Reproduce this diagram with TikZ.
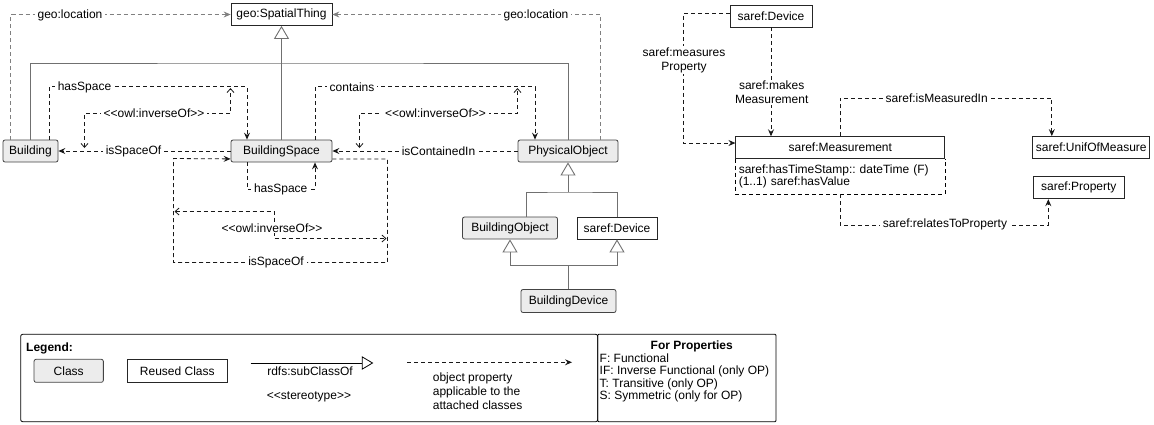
\documentclass[tikz,border=0pt]{standalone}
\usepackage{fontspec}
\setmainfont{Liberation Sans}
\usetikzlibrary{arrows.meta}
\definecolor{clsfill}{HTML}{ECECEC}
\definecolor{clsline}{HTML}{444444}
\definecolor{geoline}{HTML}{808080}
\definecolor{genline}{HTML}{707070}
\frenchspacing

\begin{document}
\begin{tikzpicture}[x=1pt, y=-1pt, font=\fontsize{12}{14}\selectfont,
    cls/.style={draw=clsline, fill=clsfill, rounded corners=2pt, line width=0.8pt,
      inner sep=0pt, minimum height=22pt},
    reused/.style={draw=black!85, fill=white, line width=0.8pt, inner sep=0pt,
      minimum height=22pt},
    oprop/.style={draw=black!90, line width=0.8pt, dash pattern=on 4pt off 3pt,
      -{Stealth[length=7pt,width=6pt,inset=2.5pt]}},
    geoprop/.style={oprop, draw=geoline},
    inv/.style={draw=black!90, line width=0.8pt, dash pattern=on 4pt off 3pt,
      {Straight Barb[length=4pt,width=7pt]}-{Straight Barb[length=4pt,width=7pt]}},
    gen/.style={draw=genline, line width=0.9pt, -{Triangle[open,length=13pt,width=15pt]}},
    genl/.style={draw=genline, line width=0.9pt},
    lbl/.style={fill=white, inner xsep=3pt, inner ysep=1pt, align=center}]
    \useasboundingbox (0,0) rectangle (1154,424);

    % classes
    \node[reused, minimum width=101pt] (spatial) at (281.5,14.5) {geo:SpatialThing};
    \node[cls, minimum width=55pt] (building) at (30.5,151) {Building};
    \node[cls, minimum width=101pt] (bspace) at (281.5,151) {BuildingSpace};
    \node[cls, minimum width=100pt] (physobj) at (568,151) {PhysicalObject};
    \node[cls, minimum width=95pt] (bobject) at (510,228) {BuildingObject};
    \node[reused, minimum width=80pt] (devicelow) at (617,228) {saref:Device};
    \node[cls, minimum width=95pt, minimum height=23pt] (bdevice) at (568.5,301) {BuildingDevice};

    \node[reused, minimum width=82pt] (device) at (771,16) {saref:Device};
    \node[reused, minimum width=209pt, minimum height=21.6pt] (measure) at (840.3,147.5) {saref:Measurement};
    \node[anchor=north, minimum width=209pt, minimum height=35pt, text width=203pt,
      align=left, inner xsep=2pt, inner ysep=0pt, font=\fontsize{12}{11.7}\selectfont]
      (attr) at (measure.south) {saref:hasTimeStamp:: dateTime (F)\\(1..1) saref:hasValue};
    \draw[line width=0.8pt, dash pattern=on 4pt off 3pt]
      (attr.north west) -- (attr.south west) -- (attr.south east) -- (attr.north east);
    \node[reused, minimum width=117pt] (unit) at (1091.3,147.5) {saref:UnifOfMeasure};
    \node[reused, minimum width=91pt] (property) at (1078.8,187.8) {saref:Property};

    % subclass tree
    \coordinate (spjoin) at (281.5,63);
    \coordinate (pojoin) at (568,192);
    \coordinate (bdjoin) at (568.5,265);
    \draw[gen] (bspace.north) -- (spatial.south);
    \draw[genl] (building.north) |- (spjoin) -| (physobj.north);
    \draw[gen] (pojoin) -- (physobj.south);
    \draw[genl] ([xshift=16pt]bobject.north) |- (pojoin) -| (devicelow.north);
    \draw[genl] (bdevice.north) -- (bdjoin);
    \draw[gen] (bdjoin) -| (bobject.south);
    \draw[gen] (bdjoin) -| (devicelow.south);

    % geo:location
    \draw[geoprop] ([xshift=8pt]building.north west) |- (spatial.west);
    \node[lbl] (lgeoa) at (70,15) {geo:location};
    \draw[geoprop] ([xshift=-18pt]physobj.north east) |- (spatial.east);
    \node[lbl] (lgeob) at (536,15) {geo:location};

    % building and space
    \draw[oprop] ([xshift=-9pt]building.north east) -- ++(0,-53) -| ([xshift=-34.5pt]bspace.north);
    \node[lbl] (lhasa) at (84.5,87) {hasSpace};
    \draw[oprop] (bspace.west) -- (building.east);
    \node[lbl] (lspofa) at (133.5,151) {isSpaceOf};
    \coordinate (inva) at (84.5,148);
    \coordinate (invam) at (230.5,113.5);
    \coordinate (invb) at (230.5,88);
    \draw[inv] (inva) |- (invam) -- (invb);
    \node[lbl] (linva) at (154,113) {{<}{<}owl:inverseOf{>}{>}};

    % space and object
    \draw[oprop] ([xshift=33.5pt]bspace.north) -- ++(0,-53) -| ([xshift=-33pt]physobj.north);
    \node[lbl] (lcont) at (352,87) {contains};
    \draw[oprop] (physobj.west) -- (bspace.east);
    \node[lbl] (lcontin) at (438.5,151) {isContainedIn};
    \coordinate (invc) at (359.5,148);
    \coordinate (invcm) at (517.5,113.5);
    \coordinate (invd) at (517.5,88);
    \draw[inv] (invc) |- (invcm) -- (invd);
    \node[lbl] (linvb) at (435.5,113) {{<}{<}owl:inverseOf{>}{>}};

    % space and space
    \draw[oprop] ([xshift=-34.5pt]bspace.south) -- ++(0,27) -| ([xshift=33.5pt]bspace.south);
    \node[lbl] (lhasb) at (280.7,189) {hasSpace};
    \coordinate (rsa) at (387.5,262.5);
    \coordinate (rsb) at (173.5,158.5);
    \draw[oprop] ([yshift=3.5pt]bspace.south east) -| (rsa) -| (rsb) -- ([yshift=3.5pt]bspace.south west);
    \node[lbl] (lspofb) at (276,262.5) {isSpaceOf};
    \coordinate (inve) at (174.5,211.5);
    \coordinate (invem) at (274.5,211.5);
    \coordinate (invf) at (386.5,238.5);
    \draw[inv] (inve) -- (invem) |- (invf);
    \node[lbl] (linvc) at (272,228) {{<}{<}owl:inverseOf{>}{>}};

    % saref
    \draw[oprop] ([yshift=3pt]device.west) -| ([xshift=-52pt,yshift=4.5pt]measure.west) -- ([yshift=4.5pt]measure.west);
    \node[lbl] (lmprop) at (684,60) {saref:measures\\Property};
    \draw[oprop] (device.south) -- (device.south |- measure.north);
    \node[lbl] (lmkmeas) at (771.7,92.5) {saref:makes\\Measurement};
    \draw[oprop] (measure.north) -- ++(0,-38.4) -| ([xshift=-39.5pt]unit.north);
    \node[lbl] (lmeasin) at (936.7,98) {saref:isMeasuredIn};
    \draw[oprop] (attr.south) -- ++(0,31) -| ([xshift=-30.5pt]property.south);
    \node[lbl] (lrelprop) at (945,224) {saref:relatesToProperty};

    % legend
    \draw[line width=0.8pt, rounded corners=2pt] (20.7,334.3) rectangle (597.7,421.7);
    \draw[line width=0.8pt, rounded corners=1pt] (597.7,334.3) rectangle (776,421.7);
    \node[anchor=west, inner sep=0pt, font=\fontsize{12}{14}\bfseries] (lgdtitle) at (26,348) {Legend:};
    \node[cls, minimum width=69.3pt, minimum height=23pt] (lgdcls) at (68.7,370.8) {Class};
    \node[reused, minimum width=100pt, minimum height=23pt] (lgdreused) at (177.3,370.8) {Reused Class};
    \coordinate (lgdsuba) at (250.7,363);
    \coordinate (lgdsubb) at (373.3,363);
    \draw[line width=0.8pt, -{Triangle[open,length=11.5pt,width=13.5pt]}] (lgdsuba) -- (lgdsubb);
    \node (lgdsubtxt) at (310,371.7) {rdfs:subClassOf};
    \node (lgdster) at (309,396.7) {{<}{<}stereotype{>}{>}};
    \coordinate (lgdopa) at (407,362.3);
    \coordinate (lgdopb) at (572,362.3);
    \draw[oprop] (lgdopa) -- (lgdopb);
    \node[anchor=west, align=left, inner xsep=1pt] (lgdoptxt) at (431.7,391.7)
      {object property\\applicable to the\\attached classes};
    \node[font=\fontsize{12}{14}\bfseries] (lgdprops) at (691.7,346.7) {For Properties};
    \node[anchor=west, align=left, inner xsep=1.5pt, font=\fontsize{12}{12.5}\selectfont]
      (lgdpropstxt) at (598,378) {F: Functional\\IF: Inverse Functional (only OP)\\T: Transitive (only OP)\\S: Symmetric (only for OP)};
\end{tikzpicture}
\end{document}
